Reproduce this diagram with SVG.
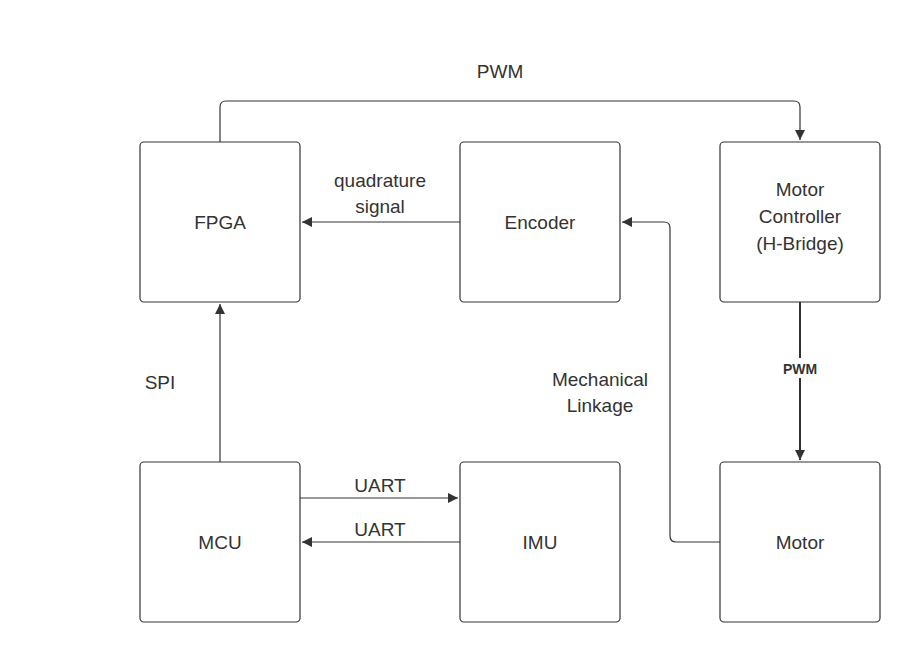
<svg xmlns="http://www.w3.org/2000/svg" width="920" height="662" viewBox="0 0 920 662">
<style>
.n{fill:#fff;stroke:#333;stroke-width:1.2}
.t{font-family:"Liberation Sans",Arial,sans-serif;font-size:19px;fill:#333;text-anchor:middle}
.c{fill:none;stroke:#333;stroke-width:1.2}
</style>
<defs><marker id="a" markerWidth="12" markerHeight="12" refX="10" refY="6" orient="auto" markerUnits="userSpaceOnUse"><path d="M0,1 L10,6 L0,11 z" fill="#333"/></marker></defs>
<rect width="920" height="662" fill="#fff"/>
<g id="connectors">
<path class="c" d="M220,142 V107 Q220,101 226,101 H794 Q800,101 800,107 V140" marker-end="url(#a)"/>
<path class="c" d="M460,222 H302" marker-end="url(#a)"/>
<path class="c" d="M720,542 H676 Q670,542 670,536 V228 Q670,222 664,222 H622" marker-end="url(#a)"/>
<path class="c" style="stroke-width:2" d="M800,302 V460" marker-end="url(#a)"/>
<path class="c" d="M220,462 V304" marker-end="url(#a)"/>
<path class="c" d="M300,498 H458" marker-end="url(#a)"/>
<path class="c" d="M460,542 H302" marker-end="url(#a)"/>
<text class="t" x="500" y="78">PWM</text>
<text class="t" x="380" y="187">quadrature</text>
<text class="t" x="380" y="213">signal</text>
<text class="t" x="600" y="386">Mechanical</text>
<text class="t" x="600" y="412">Linkage</text>
<rect x="776" y="358" width="48" height="20" fill="#fff"/>
<text class="t" x="800" y="374" style="font-size:14px;font-weight:bold">PWM</text>
<text class="t" x="160" y="389">SPI</text>
<text class="t" x="380" y="492">UART</text>
<text class="t" x="380" y="536">UART</text>
</g>
<g id="fpga"><rect class="n" x="140" y="142" width="160" height="160" rx="4"/><text class="t" x="220" y="229">FPGA</text></g>
<g id="encoder"><rect class="n" x="460" y="142" width="160" height="160" rx="4"/><text class="t" x="540" y="229">Encoder</text></g>
<g id="motorcontroller"><rect class="n" x="720" y="142" width="160" height="160" rx="4"/><text class="t" x="800" y="196">Motor</text><text class="t" x="800" y="223">Controller</text><text class="t" x="800" y="250">(H-Bridge)</text></g>
<g id="mcu"><rect class="n" x="140" y="462" width="160" height="160" rx="4"/><text class="t" x="220" y="549">MCU</text></g>
<g id="imu"><rect class="n" x="460" y="462" width="160" height="160" rx="4"/><text class="t" x="540" y="549">IMU</text></g>
<g id="motor"><rect class="n" x="720" y="462" width="160" height="160" rx="4"/><text class="t" x="800" y="549">Motor</text></g>
</svg>
